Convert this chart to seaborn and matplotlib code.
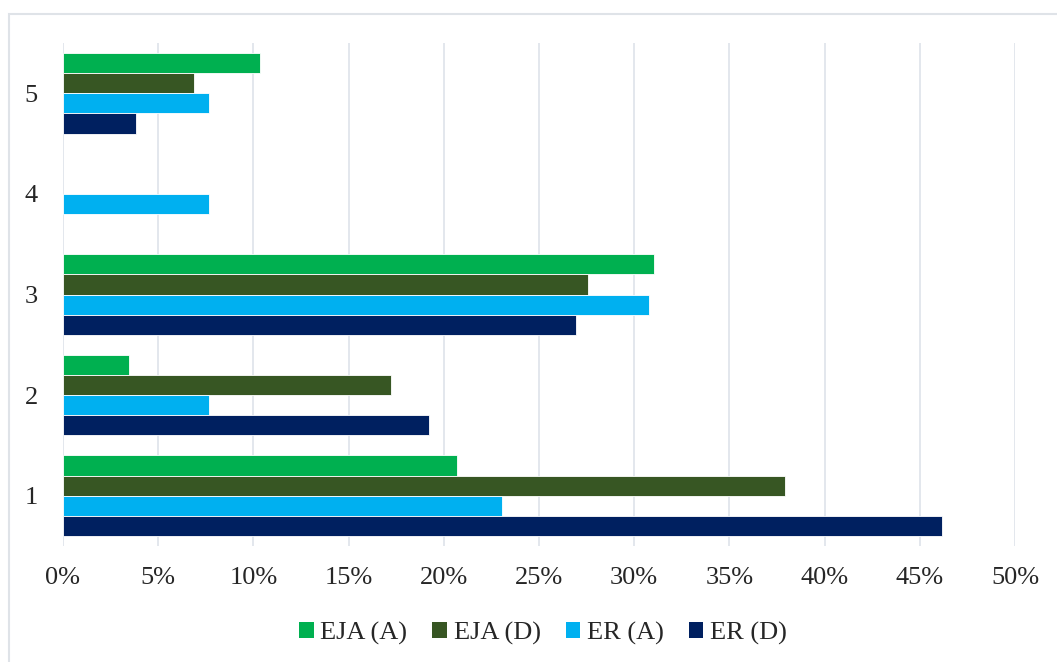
import matplotlib
matplotlib.use("Agg")
import matplotlib.pyplot as plt
import matplotlib.patches as mpatches
from matplotlib.ticker import PercentFormatter, MultipleLocator
import seaborn as sns
import pandas as pd

# Share of responses per rating level (1-5), by group
categories = ["1", "2", "3", "4", "5"]
series_names = ["EJA (A)", "EJA (D)", "ER (A)", "ER (D)"]
eja_a = [0.2069, 0.0345, 0.3103, 0.0, 0.1034]
eja_d = [0.3793, 0.1724, 0.2759, 0.0, 0.0690]
er_a = [0.2308, 0.0769, 0.3077, 0.0769, 0.0769]
er_d = [0.4615, 0.1923, 0.2692, 0.0, 0.0385]
colors = ["#00B050", "#375623", "#00B0F0", "#002060"]

rows = []
for name, vals in zip(series_names, [eja_a, eja_d, er_a, er_d]):
    for cat, v in zip(categories, vals):
        if v > 0:
            rows.append({"level": cat, "group": name, "share": v})
df = pd.DataFrame(rows)

sns.set_style("white")
plt.rcParams["font.family"] = ["Liberation Serif", "DejaVu Serif"]

fig = plt.figure(figsize=(10.57, 6.62), dpi=100)
ax = fig.add_axes([63 / 1057, 1 - 546 / 662, (1015 - 63) / 1057, (546 - 43) / 662])

sns.barplot(
    data=df, y="level", x="share", hue="group",
    order=categories[::-1], hue_order=series_names,
    palette=colors, orient="h", width=0.8, gap=0,
    edgecolor="white", linewidth=0.6, saturation=1, ax=ax,
)

ax.set_xlim(0, 0.5)
ax.set_ylim(4.5, -0.5)
ax.xaxis.set_major_locator(MultipleLocator(0.05))
ax.xaxis.set_major_formatter(PercentFormatter(1.0, decimals=0))
ax.grid(axis="x", color="#DEE3EA", linewidth=1.2)
ax.grid(axis="y", visible=False)
ax.set_axisbelow(True)
for s in ax.spines.values():
    s.set_visible(False)
ax.set_xlabel("")
ax.set_ylabel("")
ax.tick_params(axis="x", labelsize=19, length=0, pad=15)
ax.tick_params(axis="y", labelsize=19, length=0, pad=18)

leg = ax.legend(
    loc="center", bbox_to_anchor=(543 / 1057, 1 - 633 / 662),
    bbox_transform=fig.transFigure, ncol=4, frameon=False, fontsize=19,
    handlelength=0.55, handleheight=0.55, handletextpad=0.25, columnspacing=0.95,
)
for h in leg.legend_handles:
    h.set_edgecolor("none")

# Light chart-area frame
fig.patches.append(mpatches.Rectangle(
    (9 / 1057, -0.1), 1.2, 1 - 14 / 662 + 0.1, transform=fig.transFigure,
    fill=False, edgecolor="#DFE3E8", linewidth=1.5, zorder=-1,
))

fig.savefig("out.png", dpi=100)
